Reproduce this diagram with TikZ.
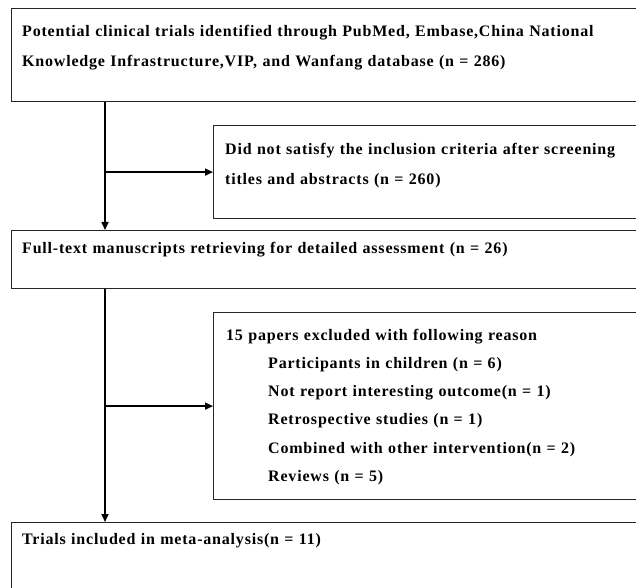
\documentclass[tikz,border=0pt]{standalone}
\usepackage{fontspec}
\setmainfont{Liberation Serif}[LetterSpace=5]
\usetikzlibrary{positioning,arrows.meta}
\tikzset{
	box/.style={draw=black!85, line width=1.2pt, anchor=north west, inner sep=0pt},
	txt/.style={anchor=base west, inner sep=0pt, text width=600pt, align=left, font=\bfseries\fontsize{16}{30}\selectfont},
	arr/.style={line width=1.6pt, -{Triangle[length=8pt,width=7pt]}}
}
\begin{document}
\begin{tikzpicture}[x=1pt,y=1pt]
	\useasboundingbox (0,0) rectangle (636,587);
	\clip (0,0) rectangle (636,587);
	\node[box, minimum width=650pt, minimum height=93pt] (records) at (11,579) {};
	\node[box, minimum width=450pt, minimum height=93pt] (excluded) at (213,462) {};
	\node[box, minimum width=650pt, minimum height=58pt] (fulltext) at (11,357) {};
	\node[box, minimum width=450pt, minimum height=187pt] (reasons) at (213,275) {};
	\node[box, minimum width=650pt, minimum height=100pt] (included) at (11,65) {};
	\coordinate (trunk) at (105,0);

	\node[txt] (recordstxt) at ([shift={(11,-29)}]records.north west) {Potential clinical trials identified through PubMed, Embase,China National\\Knowledge Infrastructure,VIP, and Wanfang database (n = 286)};
	\node[txt] (excludedtxt) at ([shift={(12,-30)}]excluded.north west) {Did not satisfy the inclusion criteria after screening\\titles and abstracts (n = 260)};
	\node[txt] (fulltexttxt) at ([shift={(11,-23)}]fulltext.north west) {Full-text manuscripts retrieving for detailed assessment (n = 26)};
	\node[txt, font=\bfseries\fontsize{16}{28.3}\selectfont] (reasonstxt) at ([shift={(13,-28)}]reasons.north west) {15 papers excluded with following reason\\
		\hspace*{42pt}Participants in children (n = 6)\\
		\hspace*{42pt}Not report interesting outcome(n = 1)\\
		\hspace*{42pt}Retrospective studies (n = 1)\\
		\hspace*{42pt}Combined with other intervention(n = 2)\\
		\hspace*{42pt}Reviews (n = 5)};
	\node[txt] (includedtxt) at ([shift={(11,-22)}]included.north west) {Trials included in meta-analysis(n = 11)};

	\draw[arr] (records.south -| trunk) -- (fulltext.north -| trunk);
	\draw[arr] (excluded.west -| trunk) -- (excluded.west);
	\draw[arr] (fulltext.south -| trunk) -- (included.north -| trunk);
	\draw[arr] (reasons.west -| trunk) -- (reasons.west);
\end{tikzpicture}
\end{document}
